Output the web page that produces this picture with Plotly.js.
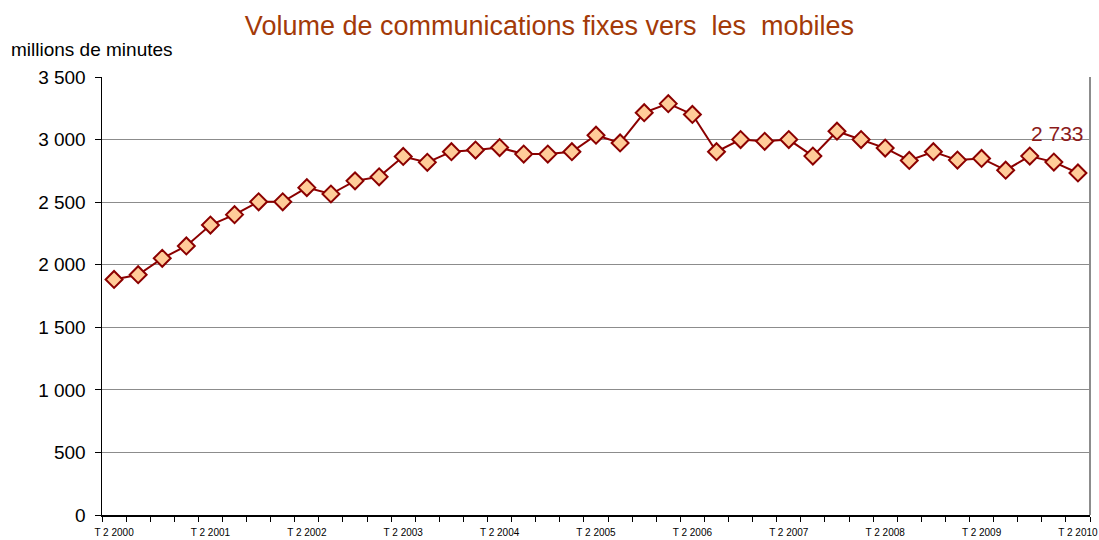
<!DOCTYPE html>
<html>
<head>
<meta charset="utf-8">
<script src="https://cdn.plot.ly/plotly-3.0.1.min.js"></script>
<style>html,body{margin:0;padding:0;background:#fff}#chart{width:1099px;height:540px}</style>
</head>
<body>
<div id="chart"></div>
<script>
var quarters = [
  "T 2 2000","T 3 2000","T 4 2000","T 1 2001","T 2 2001","T 3 2001","T 4 2001","T 1 2002",
  "T 2 2002","T 3 2002","T 4 2002","T 1 2003","T 2 2003","T 3 2003","T 4 2003","T 1 2004",
  "T 2 2004","T 3 2004","T 4 2004","T 1 2005","T 2 2005","T 3 2005","T 4 2005","T 1 2006",
  "T 2 2006","T 3 2006","T 4 2006","T 1 2007","T 2 2007","T 3 2007","T 4 2007","T 1 2008",
  "T 2 2008","T 3 2008","T 4 2008","T 1 2009","T 2 2009","T 3 2009","T 4 2009","T 1 2010",
  "T 2 2010"
];
var volumes = [
  1882, 1920, 2051, 2150, 2317, 2400, 2503, 2503,
  2616, 2565, 2670, 2702, 2865, 2818, 2903, 2916,
  2936, 2884, 2884, 2903, 3035, 2973, 3215, 3287,
  3201, 2903, 3000, 2986, 3000, 2868, 3067, 3000,
  2932, 2833, 2903, 2836, 2849, 2755, 2868, 2820,
  2733
];
var yTicks = [0, 500, 1000, 1500, 2000, 2500, 3000, 3500];
var yTickText = ["0", "500", "1 000", "1 500", "2 000", "2 500", "3 000", "3 500"];
var lastLabel = "2 733";

var idx = quarters.map(function (_, i) { return i; });
var labelIdx = idx.filter(function (i) { return i % 4 === 0; });
var labelText = labelIdx.map(function (i) { return quarters[i]; });
var boundaries = idx.map(function (i) { return i - 0.5; }).concat([quarters.length - 0.5]);

var trace = {
  x: idx,
  y: volumes,
  type: "scatter",
  mode: "lines+markers",
  line: { color: "#8B0000", width: 2 },
  marker: { symbol: "diamond", size: 13, color: "#FFCC99", line: { color: "#8B0000", width: 2 } },
  hoverinfo: "y"
};

var layout = {
  width: 1099,
  height: 540,
  margin: { l: 102, r: 9, t: 77, b: 25 },
  paper_bgcolor: "#ffffff",
  plot_bgcolor: "#ffffff",
  showlegend: false,
  font: { family: "Liberation Sans, Arial, sans-serif", color: "#000" },
  title: {
    text: "Volume de communications fixes vers\u00A0 les\u00A0 mobiles",
    font: { family: "Liberation Sans, Arial, sans-serif", size: 27, color: "#A33A08" },
    x: 0.5, xanchor: "center", xref: "container",
    y: 0.953, yanchor: "middle"
  },
  xaxis: {
    range: [-0.5, quarters.length - 0.5],
    tickmode: "array",
    tickvals: labelIdx,
    ticktext: labelText,
    ticks: "",
    tickfont: { size: 10, color: "#000" },
    ticklabelstandoff: 7,
    ticklabeloverflow: "allow",
    showgrid: false,
    zeroline: false,
    showline: true,
    linecolor: "#000",
    linewidth: 1.5,
    mirror: false,
    minor: { tickmode: "array", tickvals: boundaries, ticks: "outside", ticklen: 5, tickcolor: "#000", tickwidth: 1, showgrid: false },
    fixedrange: true
  },
  yaxis: {
    range: [0, 3500],
    tickmode: "array",
    tickvals: yTicks,
    ticktext: yTickText,
    ticks: "outside",
    ticklen: 6,
    tickcolor: "#000",
    tickfont: { size: 19, color: "#000" },
    ticklabelstandoff: 5,
    showgrid: true,
    gridcolor: "#8c8c8c",
    gridwidth: 1,
    zeroline: false,
    showline: true,
    linecolor: "#000",
    linewidth: 1.5,
    fixedrange: true
  },
  shapes: [
    { type: "line", xref: "paper", yref: "paper", x0: 1, x1: 1, y0: 0, y1: 1, line: { color: "#8c8c8c", width: 2 } }
  ],
  annotations: [
    {
      text: "millions de minutes", xref: "paper", yref: "paper",
      x: -0.094, y: 1.062, xanchor: "left", yanchor: "middle", showarrow: false,
      font: { size: 19, color: "#000" }
    },
    {
      text: lastLabel, xref: "x", yref: "y",
      x: quarters.length - 1, y: volumes[volumes.length - 1],
      xanchor: "right", yanchor: "bottom", xshift: 8, yshift: 26, showarrow: false,
      font: { size: 21, color: "#8B1A1A" }
    }
  ]
};

Plotly.newPlot("chart", [trace], layout, { displayModeBar: false, staticPlot: true });
</script>
</body>
</html>
